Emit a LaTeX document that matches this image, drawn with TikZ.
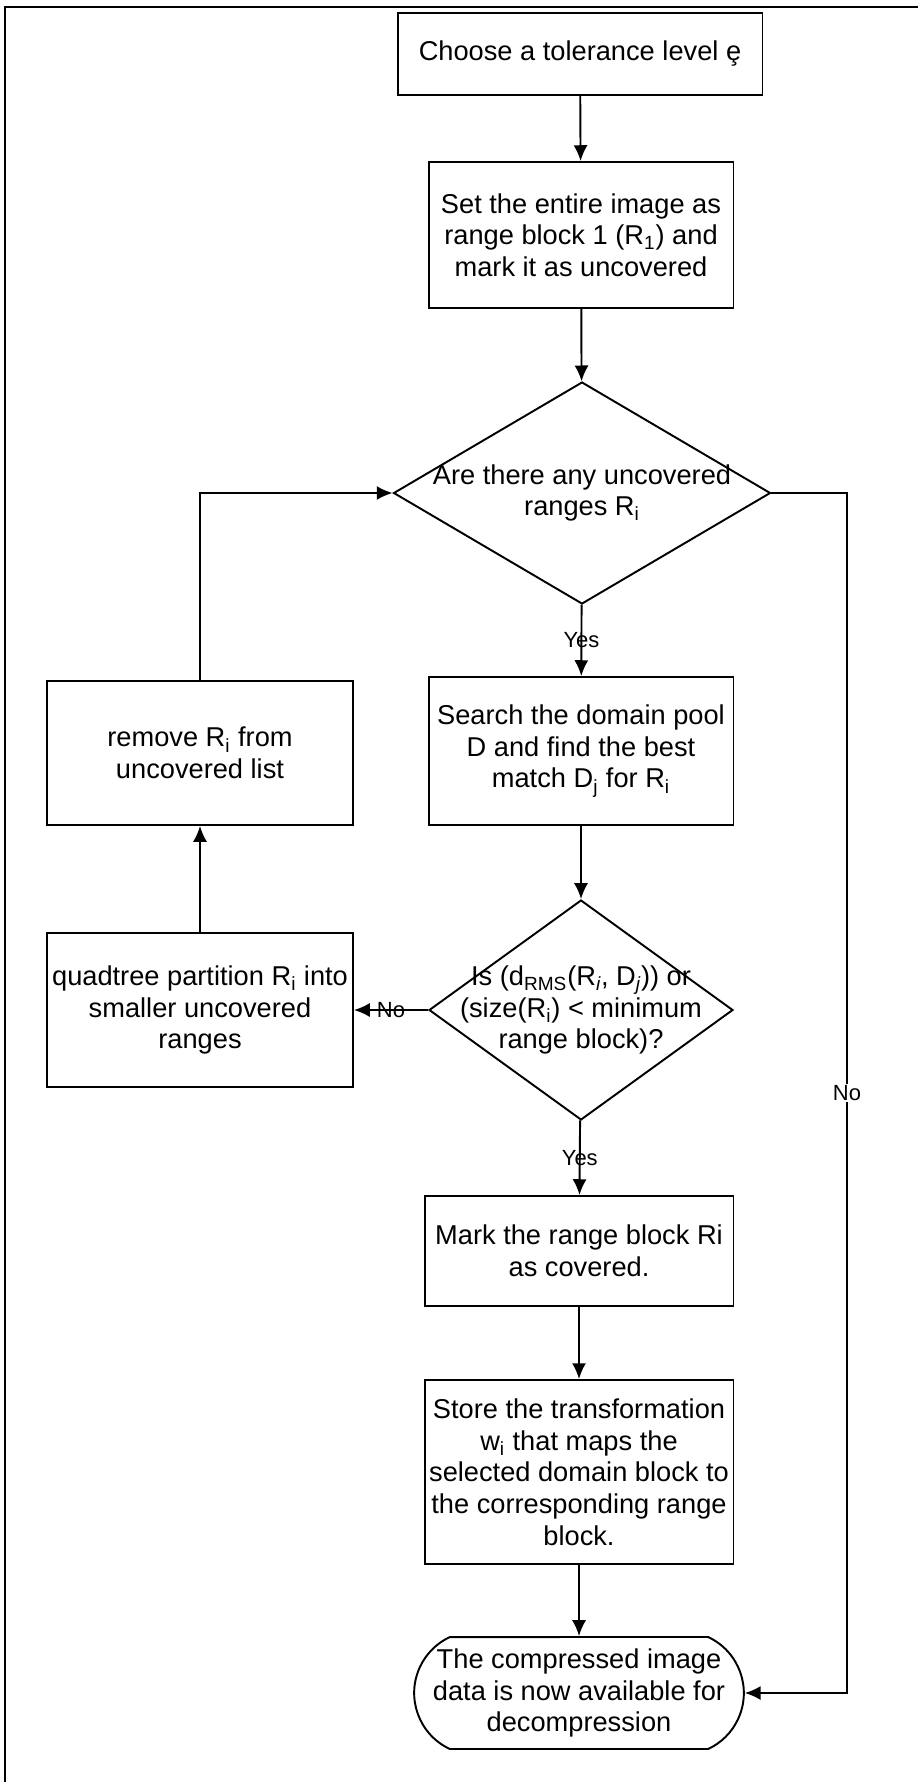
\documentclass[tikz,border=0pt]{standalone}
\usepackage{fontspec}
\setmainfont{Liberation Sans}
\usetikzlibrary{shapes,arrows.meta}

\begin{document}
\begin{tikzpicture}[
	x=0.02cm, y=-0.02cm,
	font=\fontsize{15.5}{18}\selectfont,
	line width=1.1pt,
	process/.style={draw, rectangle, align=center, inner sep=0pt, minimum width=6.1cm},
	decision/.style={draw, diamond, inner sep=0pt},
	terminal/.style={draw, rounded rectangle, rounded rectangle arc length=130, align=center, inner sep=0pt},
	arrow/.style={-{Latex[length=9pt, width=8pt]}},
	answer/.style={font=\fontsize{12.5}{14}\selectfont, inner sep=1pt}
]
\useasboundingbox (0,0) rectangle (918,1782);
% frame
\draw[line width=1pt] (5,1782) -- (5,7) -- (918,7);

% main column
\node[process, minimum width=7.3cm, minimum height=1.64cm] (tolerance) at (580,54) {Choose a tolerance level ȩ};
\node[process, minimum height=2.92cm] (wholeimg) at (581,235) {Set the entire image as\\range block 1 (R\textsubscript{1}) and\\mark it as uncovered};

\node[decision, minimum width=7.54cm, minimum height=4.44cm] (ranges) at (582,493) {};
\node[align=center] (rangestxt) at (ranges) {Are there any uncovered\\ranges R\textsubscript{i}};

\node[process, minimum height=2.96cm] (search) at (581,751) {Search the domain pool\\D and find the best\\match D\textsubscript{j} for R\textsubscript{i}};

\node[decision, minimum width=6.08cm, minimum height=4.4cm] (small) at (581,1010) {};
\node[align=center] (smalltxt) at (small) {Is (d\textsubscript{RMS}(R\textsubscript{\itshape i}, D\textsubscript{\itshape j})) or\\(size(R\textsubscript{i}) < minimum\\range block)?};

\node[process, minimum width=6.18cm, minimum height=2.2cm] (mark) at (579,1251) {Mark the range block Ri\\as covered.};
\node[process, minimum width=6.18cm, minimum height=3.68cm] (store) at (579,1472) {Store the transformation\\w\textsubscript{i} that maps the\\selected domain block to\\the corresponding range\\block.};
\node[terminal, minimum width=6.12cm, minimum height=2.24cm] (done) at (579,1693) {The compressed image\\data is now available for\\decompression};

% left column
\node[process, minimum width=6.12cm, minimum height=2.88cm] (remove) at (200,753) {remove R\textsubscript{i} from\\uncovered list};
\node[process, minimum width=6.12cm, minimum height=3.08cm] (quad) at (200,1010) {quadtree partition R\textsubscript{i} into\\smaller uncovered\\ranges};

\coordinate (nocorner) at (847,493);

\draw[arrow] (tolerance) edge (wholeimg);
\draw[arrow] (wholeimg) edge (ranges);
\draw[arrow] (ranges) edge node[answer, pos=0.5] {Yes} (search);
\draw[arrow] (search) edge (small);
\draw[arrow] (small) edge node[answer, pos=0.5] {Yes} (mark);
\draw[arrow] (mark) edge (store);
\draw[arrow] (store) edge (done);
\draw[arrow] (small) edge node[answer, pos=0.5] {No} (quad);
\draw[arrow] (quad) edge (remove);
\draw[arrow] (remove.north) |- (ranges.west);
\draw[arrow] (ranges.east) -- (nocorner) |- node[answer, fill=white, pos=0.25] {No} (done.east);
\end{tikzpicture}
\end{document}
